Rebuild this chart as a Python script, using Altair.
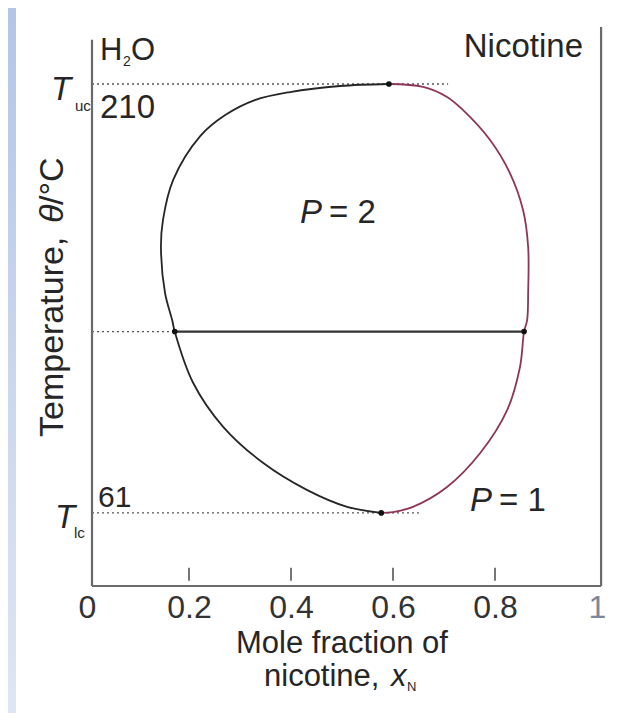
import altair as alt
import pandas as pd

# ---- data ----
left_x = [0.577, 0.510, 0.431, 0.345, 0.267, 0.208, 0.172, 0.167, 0.153, 0.145, 0.149, 0.169, 0.222, 0.271, 0.329, 0.398, 0.496, 0.592]
left_T = [61.0, 63.1, 69.0, 78.4, 90.9, 106.2, 124.0, 128.0, 137.4, 153.4, 162.8, 176.7, 191.9, 199.2, 204.4, 207.2, 209.3, 210.0]
right_x = [0.592, 0.659, 0.706, 0.737, 0.790, 0.829, 0.855, 0.865, 0.865, 0.863, 0.857, 0.849, 0.824, 0.771, 0.706, 0.639, 0.600, 0.577]
right_T = [210.0, 209.0, 205.5, 201.0, 190.6, 179.1, 166.2, 153.4, 137.4, 128.0, 124.0, 111.7, 96.8, 81.8, 70.0, 63.1, 61.3, 61.0]

tie_T = 124.0
tie_x = [0.172, 0.857]
crit_x = [0.592, 0.577]
crit_T = [210.0, 61.0]
dot_T = [210.0, 124.0, 61.0]
dot_end = [0.708, 0.172, 0.653]
x_ticks = [0, 0.2, 0.4, 0.6, 0.8, 1]
inner_ticks = [0.2, 0.4, 0.6, 0.8]
T_lo, T_hi = 35.6, 229.8
axis_x = 0.0098
right_x_frame = 1.008
left_top_T = 225.4

FONT = "Liberation Sans"
OX, OY = 87, 27  # page position of plot origin

xs = alt.Scale(domain=[0, 1], nice=False, zero=False)
ys = alt.Scale(domain=[T_lo, T_hi], nice=False, zero=False)

X_AXIS = alt.Axis(values=x_ticks, format="~g", domain=False, ticks=False, grid=False,
                  labelFontSize=32, labelFont=FONT, labelFlush=False, labelOverlap=False,
                  labelPadding=6,
                  labelColor={"condition": {"test": "datum.value == 1", "value": "#7d879c"}, "value": "#333333"},
                  title=None)

def X(f="x"):
    return alt.X(f"{f}:Q", scale=xs, axis=X_AXIS)

def Y(f="T"):
    return alt.Y(f"{f}:Q", scale=ys, axis=None)

rows = []
for i, (a, b) in enumerate(zip(left_x, left_T)):
    rows.append({"branch": "left", "i": i, "x": a, "T": b})
for i, (a, b) in enumerate(zip(right_x, right_T)):
    rows.append({"branch": "right", "i": i, "x": a, "T": b})
curve_df = pd.DataFrame(rows)

curve = alt.Chart(curve_df).mark_line(interpolate="catmull-rom", strokeWidth=1.8).encode(
    x=X(), y=Y(), order="i:Q", detail="branch:N",
    color=alt.Color("branch:N", scale=alt.Scale(domain=["left", "right"], range=["#262626", "#8e3559"]), legend=None),
)

tie = alt.Chart(pd.DataFrame({"x": [tie_x[0]], "x2": [tie_x[1]], "T": [tie_T]})).mark_rule(
    color="#333333", strokeWidth=2.2).encode(x=X(), x2="x2:Q", y=Y())

dotted = alt.Chart(pd.DataFrame({"x": [axis_x] * 3, "x2": dot_end, "T": dot_T})).mark_rule(
    color="#555555", strokeWidth=1.3, strokeDash=[2, 3]).encode(x=X(), x2="x2:Q", y=Y())

pts = alt.Chart(pd.DataFrame({"x": crit_x + tie_x, "T": crit_T + [tie_T, tie_T]})).mark_circle(
    size=32, color="#111111", opacity=1).encode(x=X(), y=Y())

frame_df = pd.DataFrame({
    "x": [axis_x, right_x_frame, axis_x],
    "x2": [axis_x, right_x_frame, right_x_frame],
    "T": [T_lo, T_lo, T_lo],
    "T2": [left_top_T, T_hi, T_lo],
})
frame = alt.Chart(frame_df).mark_rule(color="#6b6b6b", strokeWidth=2.2).encode(
    x=X(), x2="x2:Q", y=Y(), y2="T2:Q")

ticks = alt.Chart(pd.DataFrame({"x": inner_ticks, "T": [41.9] * 4, "T2": [37.4] * 4})).mark_rule(
    color="#555555", strokeWidth=1.6).encode(x=X(), y=Y(), y2="T2:Q")

one = pd.DataFrame({"a": [0]})

def txt(s, px, py, size=32, align="left", style="normal", angle=0, color="#262626"):
    kw = dict(text=s, font=FONT, fontSize=size, align=align, baseline="middle",
              fontStyle=style, color=color)
    if angle:
        kw["angle"] = angle
    return alt.Chart(one).mark_text(**kw).encode(x=alt.value(px - OX), y=alt.value(py - OY))

texts = [
    txt("H", 100, 51, 31), txt("2", 123, 62, 14), txt("O", 131, 51, 31),
    txt("Nicotine", 583, 47, 33, align="right"),
    txt("T", 51, 90, 33, style="italic"), txt("uc", 75, 106, 15),
    txt("210", 100, 108, 33),
    txt("T", 55, 518, 33, style="italic"), txt("lc", 74, 533, 15),
    txt("61", 98, 498, 30),
    txt("P", 300, 213, 33, style="italic"), txt("= 2", 329, 213, 33),
    txt("P", 470, 501, 33, style="italic"), txt("= 1", 499, 501, 33),
    txt("Temperature, ", 53, 437, 34, angle=270), txt("θ", 53, 223, 34, angle=270, style="italic"),
    txt("/°C", 53, 205, 34, angle=270),
    txt("Mole fraction of", 342, 644, 31, align="center"),
    txt("nicotine,", 264, 677, 31), txt("x", 391, 677, 31, style="italic"), txt("N", 407, 687, 13),
]

strip = alt.Chart(one).mark_rect(
    color=alt.LinearGradient(gradient="linear",
                             stops=[alt.GradientStop(color="#b3c6e7", offset=0),
                                    alt.GradientStop(color="#dfe6f3", offset=1)],
                             x1=0, x2=0, y1=0, y2=1)
).encode(x=alt.value(-79), x2=alt.value(-71), y=alt.value(-19), y2=alt.value(686))

chart = alt.layer(strip, dotted, frame, ticks, tie, curve, pts, *texts).properties(
    width=510, height=559,
    padding={"left": 79, "top": 19, "right": 16, "bottom": 127},
    autosize=alt.AutoSizeParams(type="none"),
    background="white",
).configure_view(stroke=None)

chart.save("out.html", embed_options={"renderer": "svg", "actions": False})
